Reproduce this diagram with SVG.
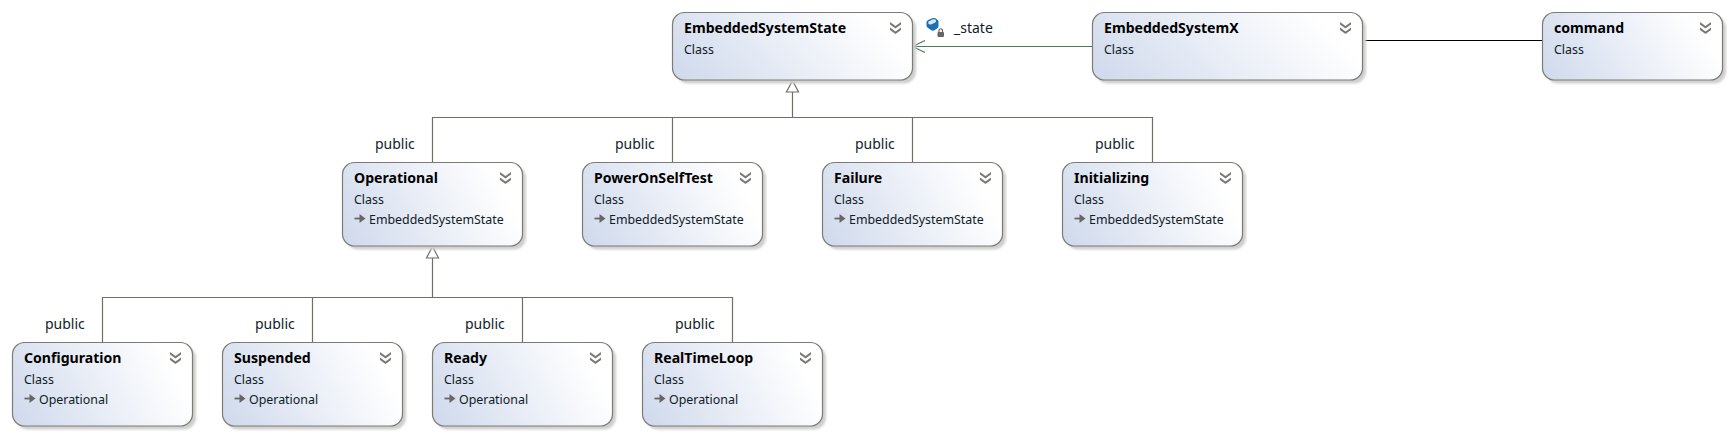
<svg xmlns="http://www.w3.org/2000/svg" width="1734" height="436" viewBox="0 0 1734 436">
<defs>
<linearGradient id="g" x1="0" y1="1" x2="1" y2="0.75"><stop offset="0" stop-color="#cfd9ec"/><stop offset="1" stop-color="#ffffff"/></linearGradient>
<filter id="blur" x="-5%" y="-10%" width="110%" height="120%"><feGaussianBlur stdDeviation="0.8"/></filter>
<g id="chev"><path d="M0 0l5.500 4 5.500-4v2.500l-5.500 4-5.500-4zM0 5.500l5.500 4 5.500-4v2.500l-5.500 4-5.500-4z" fill="#7a7a74"/></g>
<g id="inh"><path d="M0-4.500h6" fill="none" stroke="#666" stroke-width="1.800"/><path d="M5-9l6 4.500-6 4.500z" fill="#666"/></g>
</defs>
<style>
.s{fill:#cfcfcf;filter:url(#blur)}
.b{fill:url(#g);stroke:#7c7c74;stroke-width:1.200}
text{font-family:"Noto Sans","Open Sans",sans-serif;fill:#101c28}
.t{font-size:14.100px;font-weight:700;fill:#000}
.c{font-size:12.400px}
.l{font-size:14px}
.e{fill:none;stroke:#6f6f66;stroke-width:1.200}
</style>
<rect width="1734" height="436" fill="#fff"/>
<g id="connectors">
<path class="e" d="M792.500 92V117.500M432.500 162V117.500H1152.500V162M672.500 117.500V162M912.500 117.500V162"/>
<path class="e" d="M792.500 80.500l6 11.500h-12z"/>
<path class="e" d="M432.500 258V297.500M102.500 342V297.500H732.500V342M312.500 297.500V342M522.500 297.500V342"/>
<path class="e" d="M432.500 246.500l6 11.500h-12z"/>
<path d="M1092 46.500H912.500M925 40.500L912.500 46.500L925 52.500" fill="none" stroke="#4a7a5a" stroke-width="1.100"/>
<path d="M1365 40.500H1543" stroke="#000" stroke-width="1"/>
</g>
<g id="label-state">
<path d="M926.500 22.500Q926.500 21 928 20L933 18Q935 17.500 936.500 19L938.500 21V26Q938.500 27.500 937 28.500L934 30.500Q932.500 31 931 30L928 28Q926.500 27 926.500 25.500z" fill="#1a6fb5"/>
<path d="M928.500 21.500L933 19.300Q935 18.800 936 20.300Q936.500 21.800 934.800 22.800L931.500 24.300Q929.500 24.800 928.500 23.800Q927.800 22.500 928.500 21.500z" fill="#d7e8f5"/>
<rect x="937.500" y="32" width="6.500" height="5" rx="1" fill="#666"/><path d="M939 32v-1.500a1.700 1.700 0 0 1 3.500 0V32" fill="none" stroke="#666" stroke-width="1.200"/>
<text class="l" x="954" y="33">_state</text>
</g>
<g id="pub">
<text class="l" x="375" y="149">public</text><text class="l" x="615" y="149">public</text><text class="l" x="855" y="149">public</text><text class="l" x="1095" y="149">public</text>
<text class="l" x="45" y="329">public</text><text class="l" x="255" y="329">public</text><text class="l" x="465" y="329">public</text><text class="l" x="675" y="329">public</text>
</g>
<g id="EmbeddedSystemState"><rect class="s" x="676" y="16" width="240" height="67.500" rx="12"/><rect class="b" x="672.500" y="12.500" width="240" height="67.500" rx="12"/><use href="#chev" x="890" y="22"/><text class="t" x="684" y="33.300">EmbeddedSystemState</text><text class="c" x="684" y="54">Class</text></g>
<g id="EmbeddedSystemX"><rect class="s" x="1096" y="16" width="270" height="67.500" rx="12"/><rect class="b" x="1092.500" y="12.500" width="270" height="67.500" rx="12"/><use href="#chev" x="1340" y="22"/><text class="t" x="1104" y="33.300">EmbeddedSystemX</text><text class="c" x="1104" y="54">Class</text></g>
<g id="command"><rect class="s" x="1546" y="16" width="180" height="67.500" rx="12"/><rect class="b" x="1542.500" y="12.500" width="180" height="67.500" rx="12"/><use href="#chev" x="1700" y="22"/><text class="t" x="1554" y="33.300">command</text><text class="c" x="1554" y="54">Class</text></g>
<g id="Operational"><rect class="s" x="346" y="166" width="180" height="83.500" rx="12"/><rect class="b" x="342.500" y="162.500" width="180" height="83.500" rx="12"/><use href="#chev" x="500" y="172"/><text class="t" x="354" y="183.300">Operational</text><text class="c" x="354" y="204">Class</text><use href="#inh" x="354.500" y="223"/><text class="c" x="369" y="224">EmbeddedSystemState</text></g>
<g id="PowerOnSelfTest"><rect class="s" x="586" y="166" width="180" height="83.500" rx="12"/><rect class="b" x="582.500" y="162.500" width="180" height="83.500" rx="12"/><use href="#chev" x="740" y="172"/><text class="t" x="594" y="183.300">PowerOnSelfTest</text><text class="c" x="594" y="204">Class</text><use href="#inh" x="594.500" y="223"/><text class="c" x="609" y="224">EmbeddedSystemState</text></g>
<g id="Failure"><rect class="s" x="826" y="166" width="180" height="83.500" rx="12"/><rect class="b" x="822.500" y="162.500" width="180" height="83.500" rx="12"/><use href="#chev" x="980" y="172"/><text class="t" x="834" y="183.300">Failure</text><text class="c" x="834" y="204">Class</text><use href="#inh" x="834.500" y="223"/><text class="c" x="849" y="224">EmbeddedSystemState</text></g>
<g id="Initializing"><rect class="s" x="1066" y="166" width="180" height="83.500" rx="12"/><rect class="b" x="1062.500" y="162.500" width="180" height="83.500" rx="12"/><use href="#chev" x="1220" y="172"/><text class="t" x="1074" y="183.300">Initializing</text><text class="c" x="1074" y="204">Class</text><use href="#inh" x="1074.500" y="223"/><text class="c" x="1089" y="224">EmbeddedSystemState</text></g>
<g id="Configuration"><rect class="s" x="16" y="346" width="180" height="83.500" rx="12"/><rect class="b" x="12.500" y="342.500" width="180" height="83.500" rx="12"/><use href="#chev" x="170" y="352"/><text class="t" x="24" y="363.300">Configuration</text><text class="c" x="24" y="384">Class</text><use href="#inh" x="24.500" y="403"/><text class="c" x="39" y="404">Operational</text></g>
<g id="Suspended"><rect class="s" x="226" y="346" width="180" height="83.500" rx="12"/><rect class="b" x="222.500" y="342.500" width="180" height="83.500" rx="12"/><use href="#chev" x="380" y="352"/><text class="t" x="234" y="363.300">Suspended</text><text class="c" x="234" y="384">Class</text><use href="#inh" x="234.500" y="403"/><text class="c" x="249" y="404">Operational</text></g>
<g id="Ready"><rect class="s" x="436" y="346" width="180" height="83.500" rx="12"/><rect class="b" x="432.500" y="342.500" width="180" height="83.500" rx="12"/><use href="#chev" x="590" y="352"/><text class="t" x="444" y="363.300">Ready</text><text class="c" x="444" y="384">Class</text><use href="#inh" x="444.500" y="403"/><text class="c" x="459" y="404">Operational</text></g>
<g id="RealTimeLoop"><rect class="s" x="646" y="346" width="180" height="83.500" rx="12"/><rect class="b" x="642.500" y="342.500" width="180" height="83.500" rx="12"/><use href="#chev" x="800" y="352"/><text class="t" x="654" y="363.300">RealTimeLoop</text><text class="c" x="654" y="384">Class</text><use href="#inh" x="654.500" y="403"/><text class="c" x="669" y="404">Operational</text></g>
</svg>
